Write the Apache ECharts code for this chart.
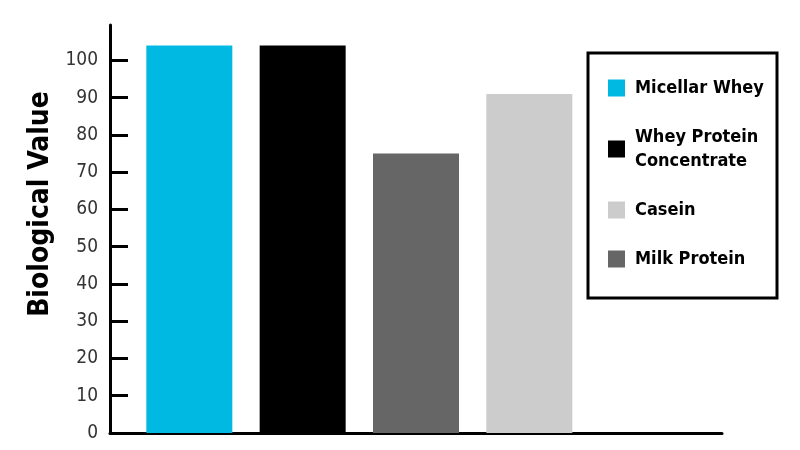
<!DOCTYPE html>
<html>
<head>
<meta charset="utf-8">
<script src="https://cdn.jsdelivr.net/npm/echarts@6/dist/echarts.min.js"></script>
<style>
  html, body { margin: 0; padding: 0; background: #fff; }
  #chart { width: 800px; height: 450px; }
</style>
</head>
<body>
<div id="chart"></div>
<script>
// bar order left to right
const categories = ['Micellar Whey', 'Whey Protein Concentrate', 'Milk Protein', 'Casein']
const positions = [1, 2, 3, 4]
const values = [104, 104, 75, 91]
const colors = ['#00b9e3', '#000000', '#666666', '#cccccc']
// legend order as in the box
const legendOrder = ['Micellar Whey', 'Whey Protein Concentrate', 'Casein', 'Milk Protein']
const yTicks = [0, 10, 20, 30, 40, 50, 60, 70, 80, 90, 100]

const condensed = '"Liberation Sans Narrow", "Arial Narrow", "DejaVu Sans Condensed", sans-serif'

const chart = echarts.init(document.getElementById('chart'))

const series = categories.map((name, i) => ({
  name: name,
  type: 'bar',
  barWidth: 86,
  barGap: '-100%',
  itemStyle: { color: colors[i] },
  data: [[positions[i], values[i]]]
}))

chart.setOption({
  animation: false,
  grid: { left: 110, right: 78, top: 25, bottom: 17 },
  xAxis: {
    type: 'value',
    min: 0.3,
    max: 5.7,
    axisLine: { show: true, lineStyle: { color: '#000', width: 3 } },
    axisTick: { show: false },
    axisLabel: { show: false },
    splitLine: { show: false }
  },
  yAxis: {
    type: 'value',
    min: 0,
    max: 109.5,
    name: 'Biological Value',
    nameLocation: 'middle',
    nameRotate: 90,
    nameGap: 42,
    nameTextStyle: {
      fontFamily: condensed,
      fontWeight: 'bold',
      fontSize: 28,
      color: '#000',
      padding: [0, 0, 0, 50]
    },
    axisLine: { show: true, lineStyle: { color: '#000', width: 3 } },
    axisTick: {
      show: true,
      inside: true,
      length: 18,
      customValues: yTicks,
      lineStyle: { color: '#000', width: 3 }
    },
    axisLabel: {
      customValues: yTicks,
      margin: 12,
      fontFamily: condensed,
      fontSize: 19,
      color: '#333'
    },
    splitLine: { show: false }
  },
  legend: {
    orient: 'vertical',
    left: 588,
    top: 53,
    data: legendOrder,
    itemWidth: 17,
    itemHeight: 17,
    itemGap: 25,
    icon: 'rect',
    padding: [23, 12, 27, 20],
    borderColor: '#000',
    borderWidth: 3,
    formatter: (name) => name === 'Whey Protein Concentrate' ? 'Whey Protein\nConcentrate' : name,
    textStyle: {
      fontFamily: condensed,
      fontWeight: 'bold',
      fontSize: 18,
      lineHeight: 24,
      color: '#000',
      width: 130,
      padding: [0, 0, 0, 5]
    }
  },
  series: series
})
</script>
</body>
</html>
